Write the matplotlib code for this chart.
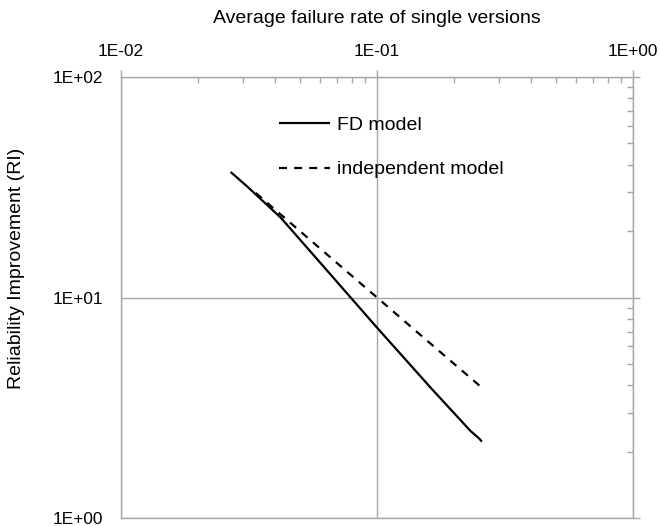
import matplotlib
matplotlib.use("Agg")
import matplotlib.pyplot as plt
from matplotlib.ticker import LogLocator, FuncFormatter, NullFormatter

plt.rcParams['font.family'] = ['Liberation Sans', 'DejaVu Sans']

# Data
fd_x = [0.0268, 0.031, 0.0421, 0.0659, 0.1, 0.162, 0.232, 0.250, 0.257]
fd_y = [37.1, 32.0, 23.0, 12.7, 7.3, 3.90, 2.48, 2.30, 2.22]
ind_x = [0.0336, 0.05, 0.1, 0.2, 0.257]
ind_y = [29.8, 20.0, 10.0, 5.0, 3.9]

series_labels = ["FD model", "independent model"]
x_title = "Average failure rate of single versions"
y_title = "Reliability Improvement (RI)"

grey = '#a6a6a6'
fig = plt.figure(figsize=(6.6, 5.26), dpi=100)
ax = fig.add_axes([121/660, 1-518/526, 512/660, 441/526])

ax.plot(fd_x, fd_y, color='black', lw=1.6, solid_capstyle='butt', label=series_labels[0])
ax.plot(ind_x, ind_y, color='black', lw=1.6, linestyle=(0, (3.6, 3.2)), label=series_labels[1])

ax.set_xscale('log')
ax.set_yscale('log')
ax.set_xlim(0.01, 1)
ax.set_ylim(1, 100)

fmt = FuncFormatter(lambda v, p: "{:.0E}".format(v))
ax.xaxis.set_major_locator(LogLocator(base=10, numticks=10))
ax.xaxis.set_minor_locator(LogLocator(base=10, subs=range(2, 10), numticks=20))
ax.yaxis.set_major_locator(LogLocator(base=10, numticks=10))
ax.yaxis.set_minor_locator(LogLocator(base=10, subs=range(2, 10), numticks=20))
ax.xaxis.set_major_formatter(fmt)
ax.yaxis.set_major_formatter(fmt)
ax.xaxis.set_minor_formatter(NullFormatter())
ax.yaxis.set_minor_formatter(NullFormatter())

ax.grid(True, which='major', color=grey, lw=1.0)
ax.set_axisbelow(True)

ax.tick_params(axis='x', which='both', top=True, bottom=False, labeltop=True, labelbottom=False, color=grey)
ax.tick_params(axis='x', which='major', direction='out', length=5, width=1, pad=8, labelsize=12.4)
ax.tick_params(axis='x', which='minor', direction='in', length=4, width=1)
ax.tick_params(axis='y', which='both', left=False, right=True, labelleft=True, labelright=False, color=grey)
ax.tick_params(axis='y', which='major', direction='out', length=5, width=1, pad=8, labelsize=12.4)
ax.tick_params(axis='y', which='minor', direction='in', length=4, width=1)

for s in ax.spines.values():
    s.set_color(grey)
    s.set_linewidth(1.0)

ax.xaxis.set_label_position('top')
ax.set_xlabel(x_title, fontsize=14, labelpad=15)
ax.set_ylabel(y_title, fontsize=14, labelpad=18)
ax.yaxis.set_label_coords(-(121 - 17) / 512, (518 - 268) / 441)
ax.yaxis.label.set_va('center')

ax.legend(loc='upper left', bbox_to_anchor=((279-121)/512, (518-116)/441),
          frameon=False, fontsize=14, handlelength=2.6, handletextpad=0.36,
          labelspacing=1.4, borderpad=0, borderaxespad=0)

fig.savefig("out.png", dpi=100)
